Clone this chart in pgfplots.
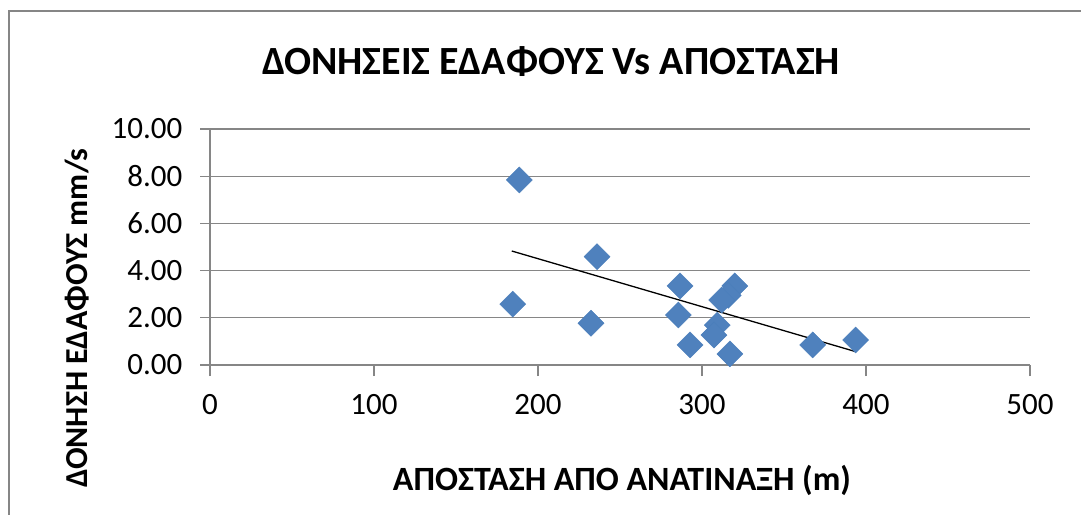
\documentclass[border=0pt]{standalone}
\usepackage{pgfplots}
\pgfplotsset{compat=1.18}
\usepackage{fontspec}
\setmainfont{Carlito}
\definecolor{ptblue}{HTML}{4F81BD}
\definecolor{ptedge}{HTML}{4A7EBB}
\definecolor{gridgray}{HTML}{868686}
\begin{document}
\begin{tikzpicture}[x=1pt,y=1pt]
\useasboundingbox (0,0) rectangle (1081,514);
\draw[color=gridgray, line width=2.5pt] (9,-20) -- (9,503) -- (1100,503);
\node[font=\bfseries\fontsize{40}{40}\selectfont, anchor=base] at (551,439) {ΔΟΝΗΣΕΙΣ ΕΔΑΦΟΥΣ Vs ΑΠΟΣΤΑΣΗ};
\node[font=\bfseries\fontsize{32}{32}\selectfont, anchor=base, rotate=90] at (87,196) {ΔΟΝΗΣΗ ΕΔΑΦΟΥΣ mm/s};
\node[font=\bfseries\fontsize{34}{34}\selectfont, anchor=base] at (622,24) {ΑΠΟΣΤΑΣΗ ΑΠΟ ΑΝΑΤΙΝΑΞΗ (m)};
\begin{axis}[
    at={(210pt,149pt)}, anchor=south west,
    scale only axis, width=820pt, height=236pt,
    xmin=0, xmax=500, ymin=0, ymax=10,
    xtick={0,100,...,500}, ytick={0,2,...,10},
    axis lines*=left,
    axis line style={gridgray, line width=1.2pt},
    ymajorgrids,
    major grid style={gridgray, line width=1.2pt},
    tick style={gridgray, line width=1.2pt},
    x tick style={/pgfplots/major tick length=11pt},
    y tick style={/pgfplots/major tick length=20pt},
    xtick align=outside, ytick align=center,
    ticklabel style={font=\fontsize{31}{31}\selectfont, text=black},
    yticklabel style={xshift=-22pt},
    xticklabel style={yshift=-22pt},
    /pgf/number format/assume math mode=true,
    yticklabel={\pgfmathprintnumber[fixed,zerofill,precision=2]{\tick}},
    scaled y ticks=false,
    clip=false,
]
\addplot[only marks, mark=square*, mark size=9.2pt,
    mark options={rotate=45, fill=ptblue, draw=ptedge}]
    coordinates {
    (188.6,7.84) (184.6,2.58) (236,4.59) (232.3,1.77)
    (286.6,3.35) (285.6,2.12) (292.7,0.85)
    (320,3.35) (316,2.95) (312,2.75)
    (309.3,1.69) (307.3,1.27) (317,0.47)
    (367.5,0.85) (393.7,1.06)
    };
\addplot[black, line width=1.3pt] coordinates {(184,4.83) (394,0.56)};
\end{axis}
\end{tikzpicture}
\end{document}
